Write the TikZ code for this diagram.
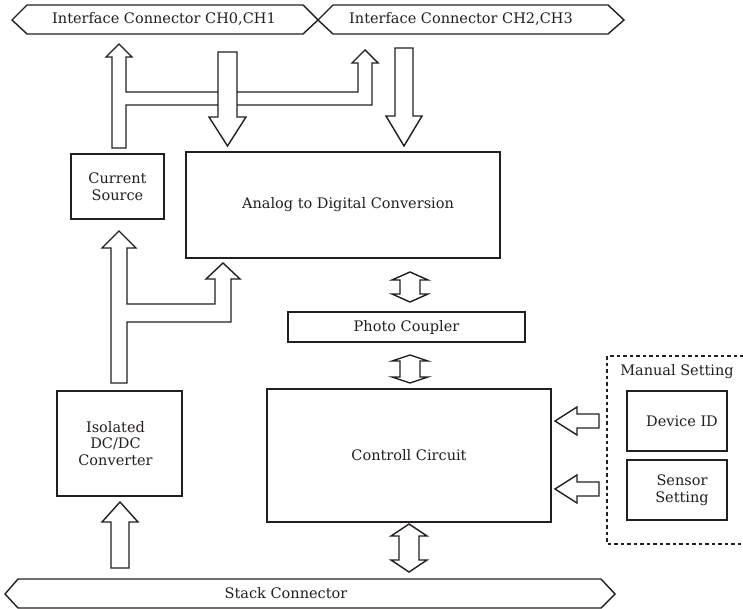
\documentclass[tikz,border=0pt]{standalone}
\usepackage{fontspec}
\setmainfont{DejaVu Serif}
\definecolor{ink}{RGB}{35,31,32}
\begin{document}
\begin{tikzpicture}[x=1pt,y=-1pt,
  txt/.style={font=\fontsize{14.5}{16.5}\selectfont, text=ink, align=center, inner sep=0pt},
  box/.style={txt, draw=ink, line width=1.6pt, fill=white, outer sep=0pt},
  fat/.style={draw=ink, line width=1.4pt, fill=white, line join=miter},
  conn/.style={draw=ink, line width=1.4pt, fill=white, line join=miter}]
\useasboundingbox (0,0) rectangle (743,609);

% connectors (buses)
\draw[conn] (12,20) -- (27,5) -- (303,5) -- (318,20) -- (303,34) -- (27,34) -- cycle;
\draw[conn] (318,20) -- (333,5) -- (608,5) -- (624,20) -- (608,34) -- (333,34) -- cycle;
\draw[conn] (5,594) -- (18,579) -- (601,579) -- (615,594) -- (601,608) -- (18,608) -- cycle;
\node[txt] (if01) at (164,19) {Interface Connector CH0,CH1};
\node[txt] (if23) at (461,19) {Interface Connector CH2,CH3};
\node[txt] (stack) at (286,593) {Stack Connector};

% boxes
\node[box, minimum width=93pt, minimum height=65pt] (cs) at (117.5,186.5) {Current\\Source};
\node[box, minimum width=314pt, minimum height=106pt] (adc) at (343,205) {\rule{10pt}{0pt}Analog to Digital Conversion};
\node[box, minimum width=237pt, minimum height=30pt] (pc) at (406.5,327) {Photo Coupler};
\node[box, minimum width=284pt, minimum height=133pt] (cc) at (409,455.5) {Controll Circuit};
\node[box, minimum width=125pt, minimum height=105pt] (iso) at (119.5,443.5) {Isolated\rule{8pt}{0pt}\\DC/DC\rule{8pt}{0pt}\\Converter\rule{8pt}{0pt}};
\node[box, minimum width=100pt, minimum height=60pt] (dev) at (677,421) {\rule{10pt}{0pt}Device ID};
\node[box, minimum width=100pt, minimum height=60pt] (sen) at (677,490) {\rule{10pt}{0pt}Sensor\\\rule{10pt}{0pt}Setting};

% manual setting dashed frame
\draw[ink, line width=1.3pt, dash pattern=on 3.5pt off 3pt] (750,356) -- (607,356) -- (607,544) -- (750,544);
\node[txt] (man) at (677,372) {Manual Setting};

% T-shaped arrow: current source -> CH0,CH1 and CH2,CH3
\draw[fat] (112,148) -- (112,57) -- (106,57) -- (119,44) -- (132,57) -- (126,57) -- (126,92)
  -- (358,92) -- (358,63) -- (352,63) -- (365,50) -- (378,63) -- (372,63) -- (372,105)
  -- (126,105) -- (126,148) -- cycle;
% down arrows into ADC
\draw[fat] (218,52) -- (237,52) -- (237,117) -- (246,117) -- (227.5,146) -- (209,117) -- (218,117) -- cycle;
\draw[fat] (395,48) -- (413,48) -- (413,116) -- (422,116) -- (404,146) -- (386,116) -- (395,116) -- cycle;

% T-shaped arrow: DC/DC -> current source and ADC
\draw[fat] (111,383) -- (111,248) -- (102,248) -- (119,231) -- (136,248) -- (127,248) -- (127,304)
  -- (215,304) -- (215,279) -- (206,279) -- (223,263) -- (240,279) -- (231,279) -- (231,322)
  -- (127,322) -- (127,383) -- cycle;

% stack -> DC/DC
\draw[fat] (111,568) -- (111,522) -- (102,522) -- (120,502) -- (138,522) -- (129,522) -- (129,568) -- cycle;

% double arrows
\draw[fat] (410,272) -- (428,280) -- (420,280) -- (420,294) -- (428,294) -- (410,302) -- (392,294) -- (400,294) -- (400,280) -- (392,280) -- cycle;
\draw[fat] (410,355) -- (428,361) -- (420,361) -- (420,377) -- (428,377) -- (410,383) -- (392,377) -- (400,377) -- (400,361) -- (392,361) -- cycle;
\draw[fat] (409,524) -- (427,536) -- (419,536) -- (419,560) -- (427,560) -- (409,572) -- (391,560) -- (399,560) -- (399,536) -- (391,536) -- cycle;

% manual settings -> control circuit
\draw[fat] (555,421) -- (577,407) -- (577,414) -- (599,414) -- (599,428) -- (577,428) -- (577,435) -- cycle;
\draw[fat] (555,489) -- (577,475) -- (577,482) -- (599,482) -- (599,496) -- (577,496) -- (577,503) -- cycle;
\end{tikzpicture}
\end{document}
